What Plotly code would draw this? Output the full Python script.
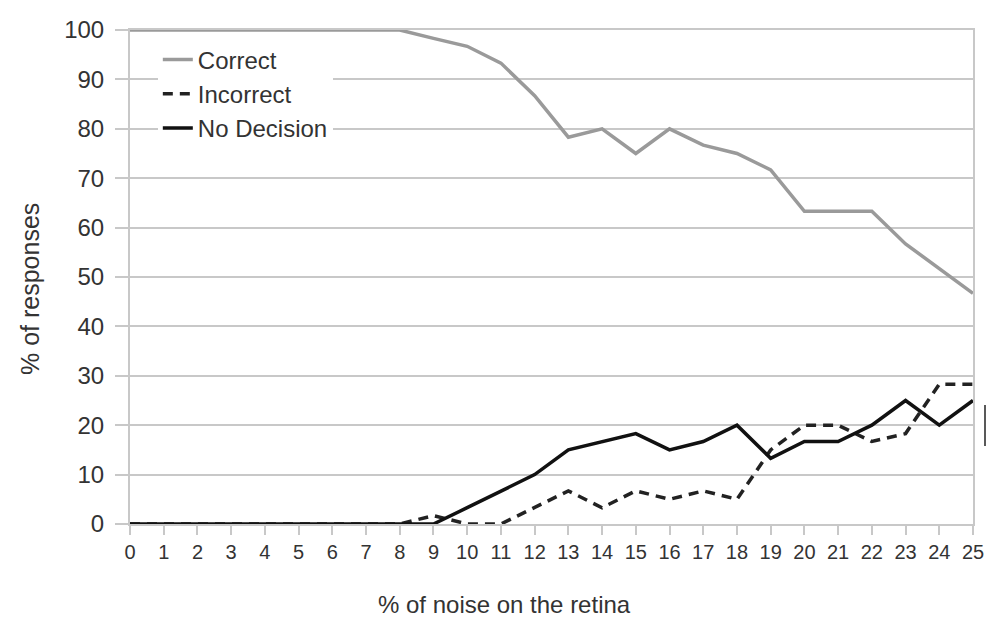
import plotly.graph_objects as go

noise = list(range(26))
tick_labels = [str(v) for v in noise]
correct = [100, 100, 100, 100, 100, 100, 100, 100, 100, 98.3, 96.7, 93.3, 86.7, 78.3, 80, 75,
           80, 76.7, 75, 71.7, 63.3, 63.3, 63.3, 56.7, 51.7, 46.7]
incorrect = [0, 0, 0, 0, 0, 0, 0, 0, 0, 1.7, 0, 0, 3.3, 6.7, 3.3, 6.7,
             5, 6.7, 5, 15, 20, 20, 16.7, 18.3, 28.3, 28.3]
no_decision = [0, 0, 0, 0, 0, 0, 0, 0, 0, 0, 3.3, 6.7, 10, 15, 16.7, 18.3,
               15, 16.7, 20, 13.3, 16.7, 16.7, 20, 25, 20, 25]

fig = go.Figure()
fig.add_trace(go.Scatter(x=noise, y=correct, mode="lines", name="Correct",
                         line=dict(color="#9a9a9a", width=3.5)))
fig.add_trace(go.Scatter(x=noise, y=incorrect, mode="lines", name="Incorrect",
                         line=dict(color="#222222", width=3.5, dash="10px,7px")))
fig.add_trace(go.Scatter(x=noise, y=no_decision, mode="lines", name="No Decision",
                         line=dict(color="#111111", width=3.5)))

grid = "#c8c8c8"
L, R, T, B = 130, 29, 30, 103
PW, PH = 1002 - L - R, 627 - T - B
fig.update_layout(
    width=1002, height=627,
    margin=dict(l=L, r=R, t=T, b=B),
    paper_bgcolor="white", plot_bgcolor="white",
    font=dict(family="Liberation Sans, Arial, sans-serif", color="#333333"),
    showlegend=True,
    legend=dict(x=0.033, y=0.985, xanchor="left", yanchor="top",
                bgcolor="white", font=dict(size=24, color="#333333"),
                itemwidth=30, tracegroupgap=0),
    xaxis=dict(range=[0, 25], tickvals=noise, ticktext=tick_labels,
               tickfont=dict(size=20), showgrid=False, zeroline=False,
               showline=True, linecolor=grid, linewidth=2, mirror=True,
               ticks="outside", ticklen=9, tickcolor=grid, tickwidth=2),
    yaxis=dict(range=[0, 100], tickvals=list(range(0, 101, 10)),
               tickfont=dict(size=24), showgrid=True, gridcolor=grid, gridwidth=2,
               zeroline=False, showline=True, linecolor=grid, linewidth=2, mirror=True,
               ticks="outside", ticklen=13, tickcolor=grid, tickwidth=2,
               ticklabelstandoff=6),
)
fig.add_annotation(text="% of noise on the retina", xref="paper", yref="paper",
                   x=(504 - L) / PW, y=(524 - 604) / PH, xanchor="center", yanchor="middle",
                   showarrow=False, font=dict(size=24, color="#333333"))
fig.add_annotation(text="% of responses", xref="paper", yref="paper", textangle=-90,
                   x=(30 - L) / PW, y=(524 - 289) / PH, xanchor="center", yanchor="middle",
                   showarrow=False, font=dict(size=25, color="#333333"))
fig.add_shape(type="line", xref="paper", yref="paper",
              x0=(985 - L) / PW, x1=(985 - L) / PW,
              y0=(524 - 405) / PH, y1=(524 - 446) / PH,
              line=dict(color="#222222", width=1.5))
fig.write_html("out.html")
